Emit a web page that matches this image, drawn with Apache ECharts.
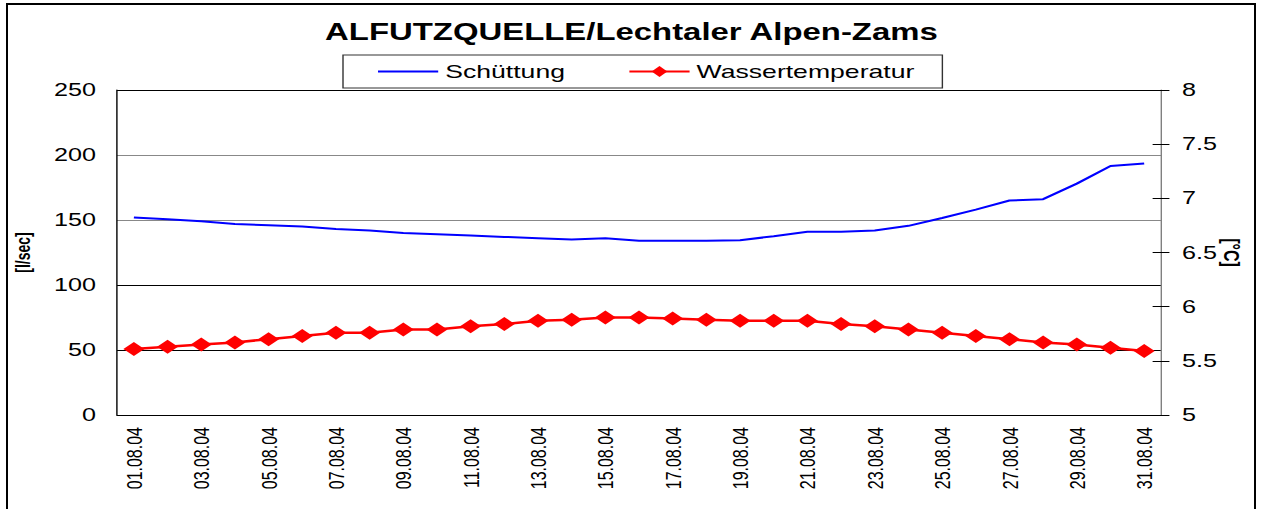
<!DOCTYPE html>
<html>
<head>
<meta charset="utf-8">
<title>ALFUTZQUELLE/Lechtaler Alpen-Zams</title>
<script src="https://cdn.jsdelivr.net/npm/echarts@6/dist/echarts.min.js"></script>
<style>
  html, body { margin: 0; padding: 0; background: #fff; overflow: hidden; }
  #frame {
    position: absolute; left: 6px; top: 3px; width: 1250px; height: 540px;
    border: 2px solid #000; box-sizing: border-box;
  }
  /* the original picture is stretched sideways, so the chart is drawn narrower and widened */
  #chart {
    position: absolute; left: 0; top: 0; width: 902px; height: 509px;
    transform: scaleX(1.4); transform-origin: 0 0;
  }
</style>
</head>
<body>
<div id="frame"></div>
<div id="chart"></div>
<script>
// Data
var days = ['01.08.04', '02.08.04', '03.08.04', '04.08.04', '05.08.04', '06.08.04', '07.08.04', '08.08.04',
    '09.08.04', '10.08.04', '11.08.04', '12.08.04', '13.08.04', '14.08.04', '15.08.04', '16.08.04',
    '17.08.04', '18.08.04', '19.08.04', '20.08.04', '21.08.04', '22.08.04', '23.08.04', '24.08.04',
    '25.08.04', '26.08.04', '27.08.04', '28.08.04', '29.08.04', '30.08.04', '31.08.04'];

// Schüttung [l/sec]
var schuettung = [152, 150.5, 149, 147, 146, 145, 143, 142, 140, 139, 138, 137, 136, 135, 136, 134,
    134, 134, 134.5, 137.5, 141, 141, 142, 145.5, 151.5, 158, 165, 166, 178, 191.5, 193.5];

// Wassertemperatur [°C]
var temperatur = [5.61, 5.63, 5.65, 5.67, 5.70, 5.73, 5.76, 5.76, 5.79, 5.79, 5.82, 5.84, 5.87, 5.88, 5.90, 5.90,
    5.89, 5.88, 5.87, 5.87, 5.87, 5.84, 5.82, 5.79, 5.76, 5.73, 5.70, 5.67, 5.65, 5.62, 5.59];

var font = 'Liberation Sans, Arial, sans-serif';

var chart = echarts.init(document.getElementById('chart'), null, { renderer: 'svg' });

chart.setOption({
    animation: false,
    textStyle: { fontFamily: font, color: '#000' },

    // Title
    title: {
        text: 'ALFUTZQUELLE/Lechtaler Alpen-Zams',
        left: 'center',
        top: 20,
        padding: 0,
        textStyle: { fontFamily: font, fontSize: 23.5, fontWeight: 'bold', color: '#000' }
    },

    // Legend box
    legend: {
        data: [
            { name: 'Schüttung', itemStyle: { opacity: 0 } },
            { name: 'Wassertemperatur' }
        ],
        left: 245,
        top: 55,
        padding: [7, 20, 7, 24],
        itemGap: 45,
        itemWidth: 43,
        itemHeight: 14,
        borderColor: '#333',
        borderWidth: 1,
        backgroundColor: '#fff',
        textStyle: { fontFamily: font, fontSize: 19, color: '#000' }
    },

    grid: {
        left: 83.6,
        right: 72.7,
        top: 90,
        bottom: 94,
        containLabel: false
    },

    xAxis: {
        type: 'category',
        data: days,
        boundaryGap: true,
        axisLine: { lineStyle: { color: '#000', width: 1 } },
        axisTick: { interval: 0, length: 7, lineStyle: { color: '#000' } },
        axisLabel: { interval: 1, rotate: 90, fontSize: 16, margin: 12, color: '#000' },
        splitLine: { show: false }
    },

    yAxis: [
        {
            type: 'value',
            min: 0,
            max: 250,
            interval: 50,
            position: 'left',
            name: '[l/sec]',
            nameLocation: 'middle',
            nameRotate: 90,
            nameGap: 60,
            nameMoveOverlap: false,
            nameTextStyle: { fontFamily: font, fontSize: 14, fontWeight: 'bold', color: '#000' },
            axisLine: { show: true, lineStyle: { color: '#000', width: 1 } },
            axisTick: { show: false },
            axisLabel: { fontSize: 18, margin: 15, color: '#000' },
            splitLine: {
                show: true,
                lineStyle: { color: ['#000', '#000', '#000', '#888', '#888', '#000'], width: 1 }
            }
        },
        {
            type: 'value',
            min: 5,
            max: 8,
            interval: 0.5,
            position: 'right',
            name: '[°C]',
            nameLocation: 'middle',
            nameRotate: -90,
            nameGap: 43,
            nameMoveOverlap: false,
            nameTextStyle: { fontFamily: font, fontSize: 16, fontWeight: 'bold', color: '#000' },
            axisLine: { show: true, lineStyle: { color: '#808080', width: 1 } },
            axisTick: { show: true, length: 6, lineStyle: { color: '#000' } },
            axisLabel: { fontSize: 18, margin: 15, color: '#000' },
            splitLine: { show: false }
        },
        {
            // inner half of the crossing ticks on the right axis
            type: 'value',
            min: 5,
            max: 8,
            interval: 0.5,
            position: 'right',
            axisLine: { show: false },
            axisTick: { show: true, inside: true, length: 6, lineStyle: { color: '#000' } },
            axisLabel: { show: false },
            splitLine: { show: false }
        }
    ],

    series: [
        {
            name: 'Schüttung',
            type: 'line',
            yAxisIndex: 0,
            data: schuettung,
            symbol: 'none',
            lineStyle: { color: '#0000ff', width: 2 },
            itemStyle: { color: '#0000ff' }
        },
        {
            name: 'Wassertemperatur',
            type: 'line',
            yAxisIndex: 1,
            data: temperatur,
            symbol: 'diamond',
            symbolSize: [15, 14],
            lineStyle: { color: '#ff0000', width: 2.5 },
            itemStyle: { color: '#ff0000' }
        }
    ]
});
</script>
</body>
</html>
